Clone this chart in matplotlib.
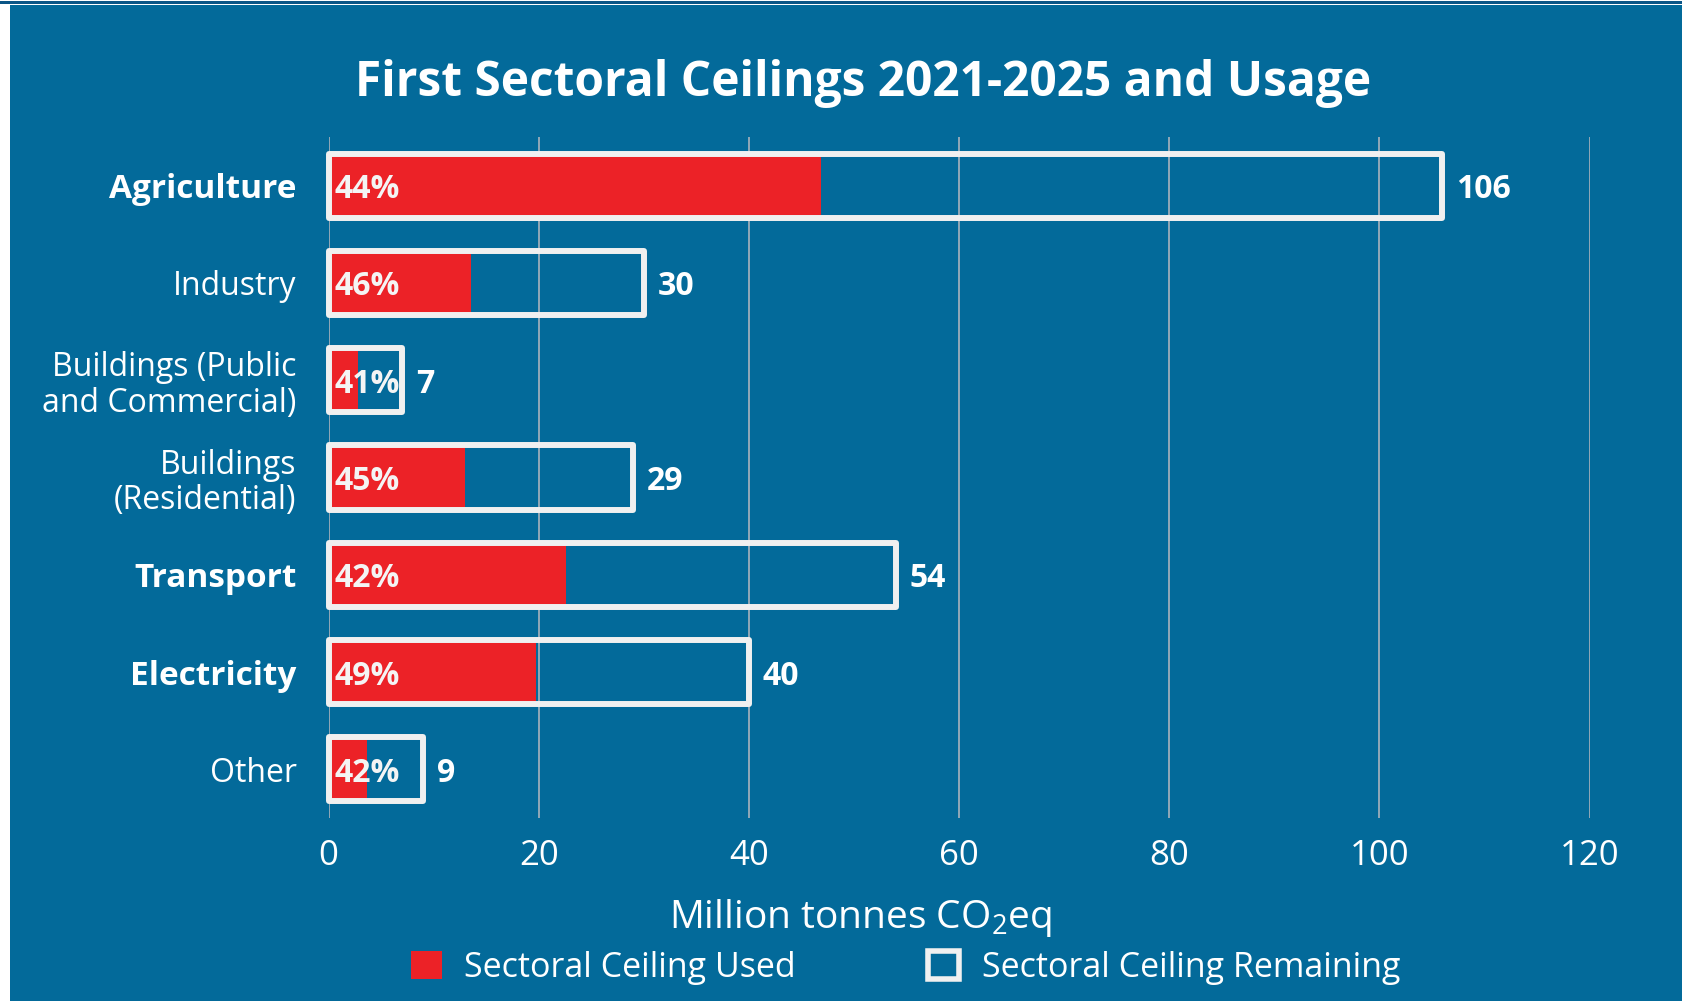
import matplotlib
matplotlib.use('Agg')
import matplotlib.pyplot as plt
from matplotlib.patches import Patch, Rectangle

categories = ['Agriculture', 'Industry', 'Buildings (Public\nand Commercial)',
              'Buildings\n(Residential)', 'Transport', 'Electricity', 'Other']
bold_categories = [True, False, False, False, True, True, False]
ceiling = [106, 30, 7, 29, 54, 40, 9]
used = [46.9, 13.6, 2.8, 13.0, 22.6, 19.7, 3.7]
pct_labels = ['44%', '46%', '41%', '45%', '42%', '49%', '42%']
xticks = [0, 20, 40, 60, 80, 100, 120]

BG = '#036a9a'
RED = '#ec2227'
OUT = '#f0f0f0'
GRID = '#a9b3bc'

plt.rcParams['font.family'] = ['Open Sans', 'DejaVu Sans']
plt.rcParams['mathtext.fontset'] = 'custom'
plt.rcParams['mathtext.rm'] = 'Open Sans'

W, H = 1683, 1001
fig = plt.figure(figsize=(W / 100, H / 100), dpi=100, facecolor='white')
fig.patches.append(Rectangle((10 / W, 0), 1 - 10 / W, 1 - 5 / H, transform=fig.transFigure,
                             facecolor=BG, edgecolor='none', zorder=-10))
fig.patches.append(Rectangle((0, 1 - 4 / H), 1, 3 / H, transform=fig.transFigure,
                             facecolor='#0b5687', edgecolor='none', zorder=-10))

ax = fig.add_axes([0.1952, 0.1828, 0.7493, 0.6803])
ax.set_facecolor('none')
ypos = list(range(len(categories)))
ax.barh(ypos, used, height=0.66, color=RED, zorder=2)
bars = ax.barh(ypos, ceiling, height=0.66, facecolor='none', edgecolor=OUT,
               linewidth=4.3, zorder=3)
for b in bars:
    b.set_joinstyle('round')
    b.set_clip_on(False)
ax.set_xlim(0, 120)
ax.set_ylim(6.5, -0.5)
ax.set_xticks(xticks)
ax.set_xticklabels([str(t) for t in xticks])
ax.grid(axis='x', color=GRID, lw=1.2, zorder=0)
ax.set_axisbelow(True)
for s in ax.spines.values():
    s.set_visible(False)
ax.tick_params(axis='x', length=0, pad=15, labelsize=25, labelcolor='white')
ax.tick_params(axis='y', length=0, pad=23)
ax.set_yticks(ypos)
ax.set_yticklabels(categories)
for lab, bold in zip(ax.get_yticklabels(), bold_categories):
    lab.set_fontsize(24 if bold else 23)
    lab.set_color('white')
    lab.set_fontweight('bold' if bold else 'normal')
    lab.set_multialignment('right')
    lab.set_linespacing(1.1)

for i in ypos:
    ax.annotate(pct_labels[i], (0, i), xytext=(4.5, 0), textcoords='offset points',
                ha='left', va='center_baseline', fontsize=23, fontweight='bold',
                color='#f4f4f4', zorder=5)
    ax.annotate(str(ceiling[i]), (ceiling[i], i), xytext=(10, 0), textcoords='offset points',
                ha='left', va='center_baseline', fontsize=23, fontweight='bold',
                color='white', zorder=5)

fig.text(0.513, 0.917, 'First Sectoral Ceilings 2021-2025 and Usage', ha='center', va='center',
         fontsize=34.5, fontweight='bold', color='white')
fig.text(0.511, 0.083, 'Million tonnes CO$_2$eq', ha='center', va='center',
         fontsize=28, color='white')

handles = [Patch(facecolor=RED, edgecolor='none'),
           Patch(facecolor='none', edgecolor=OUT, linewidth=4)]
fig.legend(handles, ['Sectoral Ceiling Used', 'Sectoral Ceiling Remaining'], loc='center',
           bbox_to_anchor=(0.538, 0.033), ncol=2, frameon=False, fontsize=24.5,
           handlelength=0.9, handleheight=0.9, handletextpad=0.66, columnspacing=3.9,
           labelcolor='white')

fig.savefig('out.png', dpi=100, facecolor='white')
